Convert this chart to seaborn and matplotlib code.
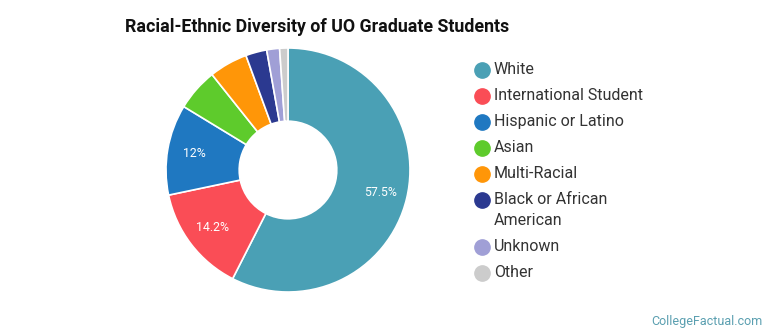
import seaborn as sns
import matplotlib.pyplot as plt
from matplotlib.lines import Line2D

# data
groups = ["White", "International Student", "Hispanic or Latino", "Asian",
          "Multi-Racial", "Black or African\nAmerican", "Unknown", "Other"]
shares = [57.5, 14.2, 12.0, 5.6, 5.1, 2.8, 1.7, 1.1]
colors = ["#4aa0b5", "#fa4d56", "#1f78c1", "#5ecb2c",
          "#ff9608", "#2b3990", "#a09fd6", "#cccccc"]

sns.set_theme(style="white")
plt.rcParams["font.family"] = ["Roboto", "DejaVu Sans"]

fig = plt.figure(figsize=(7.7, 3.35), dpi=100)
# donut centre ~ (288,170) px, outer radius ~122 px
ax = fig.add_axes([166 / 770, (335 - 292) / 335, 244 / 770, 244 / 335])


def fmt(p):
    if p < 10:
        return ""
    return f"{p:.1f}%".replace(".0%", "%")


wedges, _, autotexts = ax.pie(
    shares, colors=colors, startangle=90, counterclock=False,
    radius=1.0, autopct=fmt, pctdistance=0.78,
    wedgeprops=dict(width=0.6, edgecolor="white", linewidth=1.2),
    textprops=dict(color="white", fontsize=8.8),
)
ax.set_xlim(-1, 1)
ax.set_ylim(-1, 1)
ax.set_aspect("equal")
ax.axis("off")

fig.text(125 / 770, 1 - 27 / 335, "Racial-Ethnic Diversity of UO Graduate Students",
         fontsize=12.8, fontweight="bold", color="#111111", va="center", ha="left")

# legend, drawn by hand so the two-line entry keeps its spacing
y = 69.5
for name, col in zip(groups, colors):
    fig.add_artist(Line2D([482 / 770], [1 - y / 335], marker="o", markersize=11,
                          color=col, linestyle="none", transform=fig.transFigure))
    fig.text(494 / 770, 1 - y / 335, name.split("\n")[0], fontsize=11.5,
             color="#333333", va="center", ha="left")
    if "\n" in name:
        y += 21
        fig.text(494 / 770, 1 - y / 335, name.split("\n")[1], fontsize=11.5,
                 color="#333333", va="center", ha="left")
    y += 26

fig.text(763 / 770, 1 - 321 / 335, "CollegeFactual.com", fontsize=9,
         color="#5a9fb0", ha="right", va="center")

fig.savefig("out.png", dpi=100)
